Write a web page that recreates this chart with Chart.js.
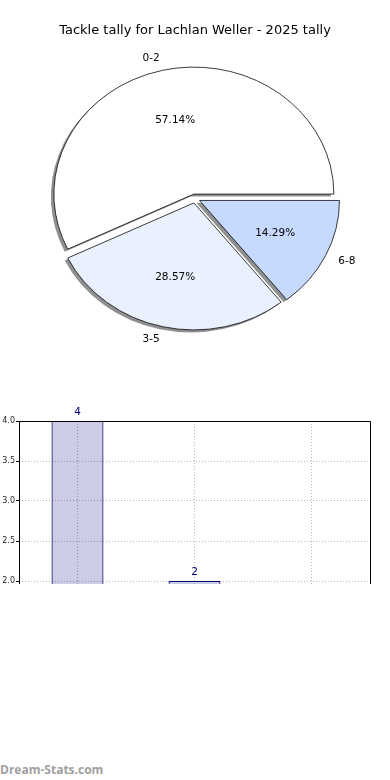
<!DOCTYPE html>
<html><head><meta charset="utf-8">
<script src="https://cdn.jsdelivr.net/npm/chart.js@4.4.1/dist/chart.umd.min.js"></script>
<style>
html,body{margin:0;padding:0;background:#fff;width:390px;height:780px;overflow:hidden;}
#title{position:absolute;left:0;top:21px;width:390px;text-align:center;font:13px "DejaVu Sans";color:#000;line-height:18px;}
#pieCanvas{position:absolute;left:0;top:0;}
#barCanvas{position:absolute;left:0;top:400px;}
#wm{position:absolute;left:0;top:761px;font:bold 12px "Open Sans";color:#a0a0a0;line-height:18px;}
</style></head><body>
<canvas id="pieCanvas" width="390" height="397"></canvas>
<canvas id="barCanvas" width="390" height="184"></canvas>
<div id="title"></div>
<div id="wm">Dream-Stats.com</div>
<script>
const chartTitle = 'Tackle tally for Lachlan Weller - 2025 tally';
const categories = ['0-2', '3-5', '6-8'];
const counts = [4, 2, 1];
const pieColors = ['#ffffff', '#eaf1fe', '#c6d9ff'];
const yTicks = [2.0, 2.5, 3.0, 3.5, 4.0];

document.getElementById('title').textContent = chartTitle;

// pie drawn clockwise from 3 o'clock in reverse order = matplotlib's counter-clockwise order
const order = [2, 1, 0];
const total = counts.reduce((a, b) => a + b, 0);
const SY = 0.907, EXPLODE = 5, SH_DX = -3, SH_DY = 2.5;

const piePlugin = {
  id: 'pieDraw',
  beforeDatasetDraw(chart, args) {
    const ctx = chart.ctx;
    const arcs = args.meta.data;
    const drawArc = (el, ox, oy) => {
      const mid = (el.startAngle + el.endAngle) / 2;
      ctx.save();
      ctx.translate(ox, oy);
      ctx.translate(el.x, el.y); ctx.scale(1, SY); ctx.translate(-el.x, -el.y);
      ctx.translate(Math.cos(mid) * EXPLODE, Math.sin(mid) * EXPLODE);
      el.draw(ctx);
      ctx.restore();
    };
    arcs.forEach(el => {
      const ghost = Object.create(el);
      ghost.options = Object.assign({}, el.options, {backgroundColor: 'rgba(70,70,70,0.6)', borderColor: 'rgba(0,0,0,0)', borderWidth: 0});
      drawArc(ghost, SH_DX, SH_DY);
    });
    arcs.forEach(el => drawArc(el, 0, 0));
    return false;
  },
  afterDatasetsDraw(chart) {
    const ctx = chart.ctx;
    const arcs = chart.getDatasetMeta(0).data;
    const ds = chart.data.datasets[0];
    ctx.save();
    ctx.font = '10.5px "DejaVu Sans"';
    ctx.fillStyle = '#000';
    ctx.textBaseline = 'middle';
    arcs.forEach((el, i) => {
      const mid = (el.startAngle + el.endAngle) / 2;
      const c = Math.cos(mid), s = Math.sin(mid);
      const r = el.outerRadius;
      const bx = el.x + c * EXPLODE, by = s * EXPLODE;
      const lx = bx + c * r * 1.1, ly = el.y + (by + s * r * 1.1) * SY;
      ctx.textAlign = c > 0 ? 'left' : 'right';
      ctx.fillText(chart.data.labels[i], lx, ly);
      const px = bx + c * r * 0.6, py = el.y + (by + s * r * 0.6) * SY;
      ctx.textAlign = 'center';
      ctx.fillText((ds.data[i] / total * 100).toFixed(2) + '%', px, py);
    });
    ctx.restore();
  }
};

new Chart(document.getElementById('pieCanvas'), {
  type: 'pie',
  data: {
    labels: order.map(i => categories[i]),
    datasets: [{
      data: order.map(i => counts[i]),
      backgroundColor: order.map(i => pieColors[i]),
      borderColor: '#000',
      borderWidth: 0.8,
      borderJoinStyle: 'miter'
    }]
  },
  options: {
    responsive: false,
    animation: false,
    rotation: 90,
    radius: 140,
    layout: {padding: 0},
    plugins: {legend: {display: false}, tooltip: {enabled: false}}
  },
  plugins: [piePlugin]
});

const barPlugin = {
  id: 'barExtras',
  afterDatasetsDraw(chart) {
    const ctx = chart.ctx;
    const area = chart.chartArea;
    const meta = chart.getDatasetMeta(0);
    ctx.save();
    ctx.font = '10.5px "DejaVu Sans"';
    ctx.fillStyle = '#000080';
    ctx.textAlign = 'center';
    ctx.textBaseline = 'bottom';
    meta.data.forEach((bar, i) => {
      if (bar.y <= area.bottom) ctx.fillText(String(chart.data.datasets[0].data[i]), bar.x, bar.y - 3);
    });
    ctx.restore();
  },
  afterDraw(chart) {
    const ctx = chart.ctx;
    const a = chart.chartArea;
    ctx.save();
    ctx.strokeStyle = '#000';
    ctx.lineWidth = 1;
    ctx.beginPath();
    ctx.moveTo(Math.round(a.left) + 0.5, a.bottom);
    ctx.lineTo(Math.round(a.left) + 0.5, Math.round(a.top) + 0.5);
    ctx.lineTo(Math.round(a.right) + 0.5, Math.round(a.top) + 0.5);
    ctx.lineTo(Math.round(a.right) + 0.5, a.bottom);
    ctx.stroke();
    ctx.restore();
  }
};

new Chart(document.getElementById('barCanvas'), {
  type: 'bar',
  data: {
    labels: categories,
    datasets: [{
      data: counts,
      backgroundColor: 'rgba(0,0,128,0.2)',
      borderColor: '#000070',
      borderWidth: 1,
      barPercentage: 0.444,
      categoryPercentage: 1
    }]
  },
  options: {
    responsive: false,
    animation: false,
    layout: {padding: {top: 21, right: 20, left: 0, bottom: 0}},
    plugins: {legend: {display: false}, tooltip: {enabled: false}},
    scales: {
      x: {
        z: 1,
        ticks: {display: false},
        grid: {offset: false, color: '#b8b8b8', lineWidth: 1, drawTicks: false},
        border: {display: false, dash: [1, 2]},
        afterFit(s) { s.height = 0; s.paddingLeft = 0; s.paddingRight = 0; }
      },
      y: {
        z: 1,
        min: 1.9625,
        max: 4,
        afterBuildTicks(s) { s.ticks = yTicks.map(v => ({value: v})); },
        ticks: {
          font: {family: 'DejaVu Sans', size: 8},
          color: '#222',
          padding: 1,
          callback: v => Number(v).toFixed(1)
        },
        grid: {color: '#b8b8b8', lineWidth: 1, drawTicks: true, tickLength: 3, tickColor: '#000', tickBorderDash: []},
        border: {display: false, dash: [1, 2]},
        afterFit(s) { s.width = 19; s.paddingTop = 0; s.paddingBottom = 0; }
      }
    }
  },
  plugins: [barPlugin]
});
</script>
</body></html>
